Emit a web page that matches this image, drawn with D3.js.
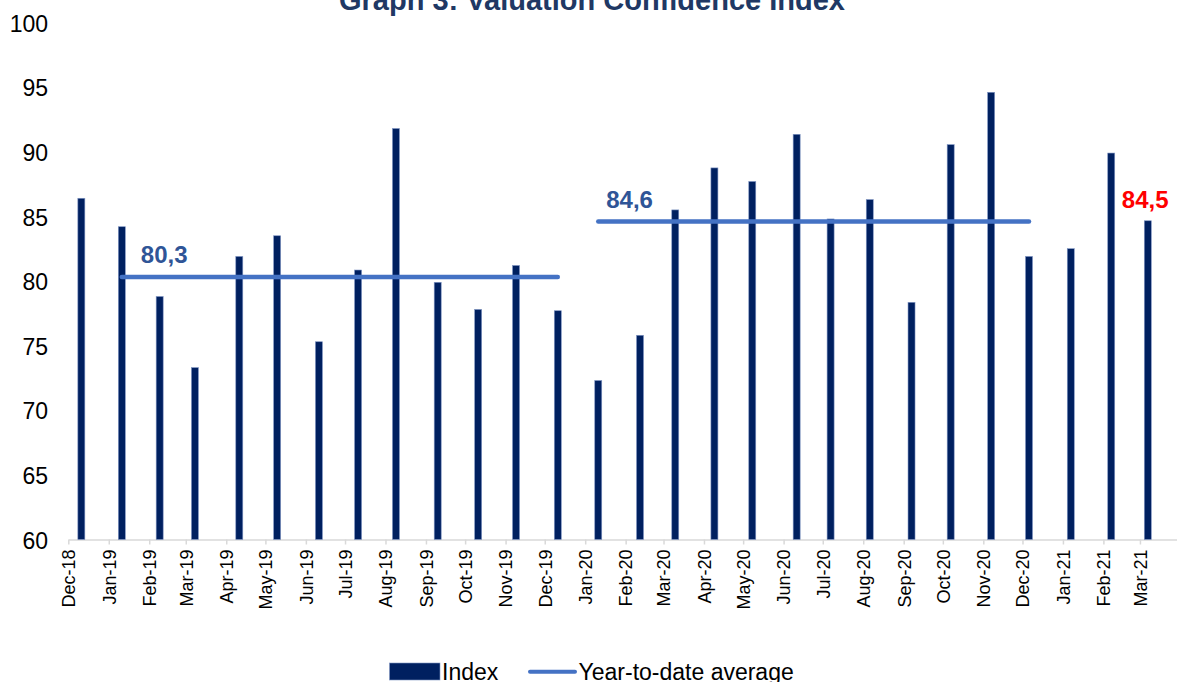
<!DOCTYPE html>
<html>
<head>
<meta charset="utf-8">
<script src="https://cdn.jsdelivr.net/npm/d3@7"></script>
<style>
  html, body { margin: 0; padding: 0; background: #fff; }
  svg { display: block; font-family: "Liberation Sans", Arial, sans-serif; }
</style>
</head>
<body>
<div id="chart"></div>
<script>
// survey dates (one per month) and the index value
var dates = ["2018-12-11", "2019-01-11", "2019-02-09", "2019-03-08", "2019-04-11", "2019-05-10",
  "2019-06-11", "2019-07-11", "2019-08-09", "2019-09-10", "2019-10-11", "2019-11-09",
  "2019-12-11", "2020-01-11", "2020-02-12", "2020-03-10", "2020-04-09", "2020-05-08",
  "2020-06-11", "2020-07-07", "2020-08-06", "2020-09-07", "2020-10-07", "2020-11-07",
  "2020-12-06", "2021-01-07", "2021-02-07", "2021-03-07"];
var indexValues = [86.4, 84.2, 78.8, 73.3, 81.9, 83.5, 75.3, 80.85, 91.8, 79.9, 77.8, 81.2,
  77.7, 72.3, 75.8, 85.5, 88.75, 87.7, 91.35, 84.8, 86.3, 78.35, 90.55, 94.6,
  81.9, 82.5, 89.9, 84.66];

// year-to-date averages, one flat line per year
var ytdYears = [2019, 2020];
var ytdValues = [80.3, 84.6];
var ytdLabels = ["80,3", "84,6"];
var latestLabel = "84,5";

var yTicks = [60, 65, 70, 75, 80, 85, 90, 95, 100];
var title = "Graph 3: Valuation Confidence Index";

var width = 1177, height = 682;
var parse = d3.timeParse("%Y-%m-%d");
var data = dates.map(function (d, i) {
  return { date: parse(d), value: indexValues[i] };
});

var svg = d3.select('#chart')
  .append('svg')
  .attr('width', width)
  .attr('height', height);

var x = d3.scaleTime()
  .domain([parse("2018-12-01"), parse("2021-03-29")])
  .range([68.3, 1176.5]);

var y = d3.scaleLinear()
  .domain([60, 100])
  .range([539.5, 22.5]);

// title, mostly cut off by the top edge like the original
svg.append('text')
  .attr('x', 592)
  .attr('y', 10)
  .attr('text-anchor', 'middle')
  .style('font-size', '29px')
  .style('font-weight', 'bold')
  .style('fill', '#203864')
  .text(title);

// y labels only, no axis line or gridlines
svg.selectAll('.ylab')
  .data(yTicks)
  .enter().append('text')
  .attr('class', 'ylab')
  .attr('x', 48)
  .attr('y', function (d) { return y(d); })
  .attr('dy', '0.4em')
  .attr('text-anchor', 'end')
  .style('font-size', '23px')
  .style('fill', '#000')
  .text(function (d) { return d; });

// x axis with a tick at each month start
var xAxis = d3.axisBottom(x)
  .ticks(d3.timeMonth.every(1))
  .tickFormat(d3.timeFormat("%b-%y"))
  .tickSize(5)
  .tickSizeOuter(0);

var gx = svg.append('g')
  .attr('transform', 'translate(0,' + y(60) + ')')
  .call(xAxis);

gx.select('.domain').attr('stroke', '#d9d9d9').attr('stroke-width', 1.5);
gx.selectAll('.tick line').attr('stroke', '#d9d9d9').attr('stroke-width', 1.5);
gx.selectAll('.tick text')
  .attr('transform', 'rotate(-90)')
  .attr('x', -10)
  .attr('y', 0)
  .attr('dy', '0.35em')
  .attr('text-anchor', 'end')
  .style('font-size', '18px')
  .style('font-family', '"Liberation Sans", Arial, sans-serif')
  .style('fill', '#000');

// bars
var barW = 7;
svg.selectAll('.bar')
  .data(data)
  .enter().append('rect')
  .attr('class', 'bar')
  .attr('x', function (d) { return x(d.date) - barW / 2; })
  .attr('y', function (d) { return y(d.value); })
  .attr('width', barW)
  .attr('height', function (d) { return y(60) - y(d.value); })
  .attr('fill', '#002060')
  .attr('stroke', '#8096c4')
  .attr('stroke-width', 0.6);

// year-to-date average lines
var line = d3.line()
  .x(function (d) { return x(d.date); })
  .y(function (d) { return y(d.avg); });

ytdYears.forEach(function (yr, k) {
  var pts = data.filter(function (d) { return d.date.getFullYear() === yr; })
    .map(function (d) { return { date: d.date, avg: ytdValues[k] }; });

  svg.append('path')
    .datum(pts)
    .attr('d', line)
    .attr('fill', 'none')
    .attr('stroke', '#4472C4')
    .attr('stroke-width', 4.5)
    .attr('stroke-linecap', 'round');

  var labelOffset = k === 0 ? 19 : 8;
  svg.append('text')
    .attr('x', x(pts[0].date) + labelOffset)
    .attr('y', y(ytdValues[k]) - 14)
    .style('font-size', '24px')
    .style('font-weight', 'bold')
    .style('fill', '#2F5597')
    .text(ytdLabels[k]);
});

// latest value label in red
var last = data[data.length - 1];
svg.append('text')
  .attr('x', x(last.date) - 26)
  .attr('y', y(ytdValues[1]) - 14)
  .style('font-size', '24px')
  .style('font-weight', 'bold')
  .style('fill', '#FF0000')
  .text(latestLabel);

// legend
var legend = svg.append('g');
legend.append('rect')
  .attr('x', 389.5)
  .attr('y', 663)
  .attr('width', 50.5)
  .attr('height', 17)
  .attr('fill', '#002060')
  .attr('stroke', '#8096c4')
  .attr('stroke-width', 0.6);
legend.append('text')
  .attr('x', 442)
  .attr('y', 679.5)
  .style('font-size', '23px')
  .style('fill', '#000')
  .text('Index');
legend.append('line')
  .attr('x1', 530).attr('x2', 575)
  .attr('y1', 671.7).attr('y2', 671.7)
  .attr('stroke', '#4472C4')
  .attr('stroke-width', 4)
  .attr('stroke-linecap', 'round');
legend.append('text')
  .attr('x', 578.5)
  .attr('y', 679.5)
  .style('font-size', '23px')
  .style('fill', '#000')
  .text('Year-to-date average');
</script>
</body>
</html>
